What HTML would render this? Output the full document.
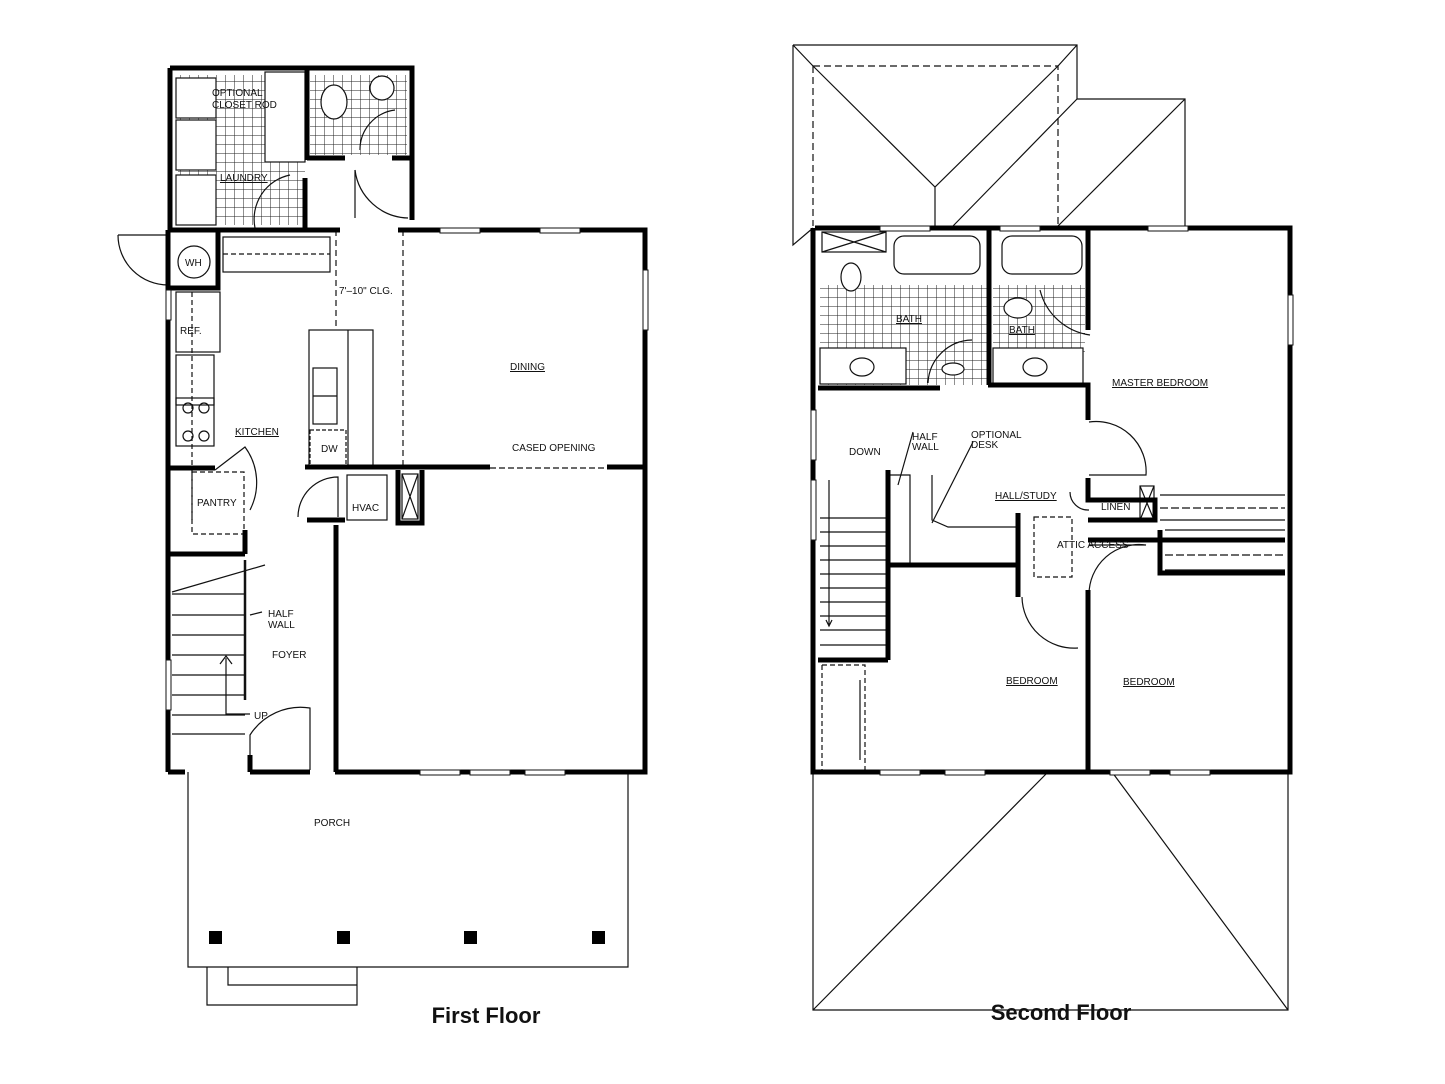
<!DOCTYPE html>
<html><head><meta charset="utf-8"><style>
html,body{margin:0;padding:0;background:#fff;}
svg{display:block;}
text{font-family:"Liberation Sans",sans-serif;fill:#111;}
.t{font-size:10px;}
.ttl{font-size:22px;font-weight:bold;}
</style></head><body>
<svg width="1445" height="1084" viewBox="0 0 1445 1084" xmlns="http://www.w3.org/2000/svg">
<defs>
<pattern id="tile" width="9" height="9" patternUnits="userSpaceOnUse"><path d="M0 0H9M0 0V9" stroke="#222" stroke-width="1" fill="none"/></pattern>
</defs>
<g fill="none" stroke="#111" stroke-width="1.2">
<rect x="178" y="75" width="127" height="150" fill="url(#tile)" stroke="none"/>
<rect x="310" y="75" width="97" height="80" fill="url(#tile)" stroke="none"/>
<rect x="176" y="78" width="40" height="40" fill="#fff"/><rect x="176" y="120" width="40" height="50" fill="#fff"/><rect x="176" y="175" width="40" height="50" fill="#fff"/>
<rect x="265" y="72" width="40" height="90" fill="#fff"/>
<ellipse cx="334" cy="102" rx="13" ry="17" fill="#fff"/><circle cx="382" cy="88" r="12" fill="#fff"/>
<path d="M355 170 A55 55 0 0 0 408 218"/><path d="M355 170V218"/>
<path d="M255 228 A45 45 0 0 1 290 175"/>
<path d="M395 110 A40 40 0 0 0 360 150"/>
<circle cx="194" cy="262" r="16"/>
<path d="M118 235H168M118 235 A50 50 0 0 0 168 285"/>
<rect x="223" y="237" width="107" height="35"/><path d="M223 254H330" stroke-dasharray="5 3"/>
<path d="M336 230V330M403 230V468" stroke-dasharray="6 4"/>
<rect x="176" y="292" width="44" height="60"/><rect x="176" y="355" width="38" height="50"/>
<rect x="176" y="398" width="38" height="48"/>
<circle cx="188" cy="408" r="5"/><circle cx="204" cy="408" r="5"/><circle cx="188" cy="436" r="5"/><circle cx="204" cy="436" r="5"/>
<path d="M192 292V520" stroke-dasharray="5 3"/>
<rect x="309" y="330" width="64" height="138"/><path d="M348 330V468"/>
<rect x="313" y="368" width="24" height="56"/><path d="M313 396H337"/>
<rect x="310" y="430" width="36" height="38" stroke-dasharray="4 2"/>
<path d="M215 470 L245 447 A60 60 0 0 1 250 510"/>
<rect x="192" y="472" width="52" height="62" stroke-dasharray="5 3"/>
<rect x="347" y="475" width="40" height="45"/>
<path d="M298 517 A40 40 0 0 1 338 477V517"/>
<rect x="402" y="474" width="16" height="45"/><path d="M402 474L418 519M418 474L402 519"/>
<path d="M172 594H245M172 615H245M172 635H245M172 655H245M172 675H245M172 695H245M172 715H245M172 734H245"/>
<path d="M245 560V700" stroke-width="2.5"/>
<path d="M172 592L265 565"/>
<path d="M226 658V714H250M220 664L226 656L232 664"/>
<path d="M250 615L262 612"/>
<path d="M250 770V735 A60 60 0 0 1 310 708V770"/>
<path d="M336 530V710" stroke-dasharray="6 4"/>
<path d="M490 468H607" stroke-dasharray="6 3"/>
<path d="M188 772V967H628V772"/>
<path d="M207 967V1005H357V967M228 967V985H357"/>
<path d="M793 45H1077V99H1185V226M793 45V245L813 228"/>
<path d="M813 66H1058V226M813 66V226" stroke-dasharray="7 4"/>
<path d="M793 45L813 66M1077 45L1058 66M813 66L935 187L1058 66M935 187V226M953 226L1077 99M1058 226L1185 99"/>
<rect x="820" y="285" width="170" height="100" fill="url(#tile)" stroke="none"/>
<rect x="993" y="285" width="92" height="70" fill="url(#tile)" stroke="none"/>
<rect x="822" y="232" width="64" height="20"/><path d="M822 232L886 252M886 232L822 252"/>
<rect x="894" y="236" width="86" height="38" rx="10" fill="#fff"/>
<rect x="1002" y="236" width="80" height="38" rx="10" fill="#fff"/>
<ellipse cx="851" cy="277" rx="10" ry="14" fill="#fff"/>
<rect x="820" y="348" width="86" height="36" fill="#fff"/><ellipse cx="862" cy="367" rx="12" ry="9"/>
<rect x="993" y="348" width="90" height="36" fill="#fff"/><ellipse cx="1035" cy="367" rx="12" ry="9"/>
<ellipse cx="1018" cy="308" rx="14" ry="10" fill="#fff"/>
<path d="M928 383 A45 45 0 0 1 972 340"/><ellipse cx="953" cy="369" rx="11" ry="6" fill="#fff"/>
<path d="M1040 290 A60 60 0 0 0 1090 335"/>
<path d="M1089 422 A50 50 0 0 1 1146 475H1089"/>
<path d="M1089 510 A18 18 0 0 1 1070 492"/>
<path d="M1089 595 A50 50 0 0 1 1146 545H1089"/>
<path d="M1022 597 A52 52 0 0 0 1078 648"/>
<rect x="1034" y="517" width="38" height="60" stroke-dasharray="5 3"/>
<rect x="1140" y="486" width="14" height="34"/><path d="M1140 486L1154 520M1154 486L1140 520"/>
<path d="M1160 495H1285M1160 520H1285M1165 530H1285M1165 540H1285M1165 570H1285" />
<path d="M1160 508H1285M1165 555H1285" stroke-dasharray="8 3"/>
<path d="M820 518H888M820 532H888M820 546H888M820 560H888M820 574H888M820 588H888M820 602H888M820 616H888M820 630H888M820 645H888"/>
<path d="M888 475H910V565M932 475V520L948 527H1018" />
<path d="M829 480V625M826 620L829 626L832 620" />
<path d="M822 665H865V770M822 665V770" stroke-dasharray="5 3"/>
<path d="M860 680V760"/>
<path d="M913 432L898 485M973 442L932 523"/>
<path d="M813 772V1010H1288V772M813 1010L1048 772M1288 1010L1112 772"/>
</g>
<g fill="none" stroke="#000" stroke-width="5">
<path d="M170 68H412V220M170 68V230M307 68V160M307 158H345M392 158H410M305 178V228M170 230H340M398 230H645V772H335M310 772H250M250 772V755M168 772V230M168 772H185"/>
<path d="M218 230V288H170M305 467H490M607 467H645M168 468H215M168 554H245M245 530V554M336 525V772M307 520H345M398 470V523H422V470"/>
<path d="M815 228H1290V772H813V228M989 228V385M1088 228V330M818 388H940M988 385H1088V420M1088 478V500H1155V520H1088M1088 540H1285M1160 530V573H1285M1018 513V597M888 565H1018M1088 590V772M888 470V660M818 660H888"/>
</g>
<g fill="#000">
<rect x="209" y="931" width="13" height="13"/><rect x="337" y="931" width="13" height="13"/><rect x="464" y="931" width="13" height="13"/><rect x="592" y="931" width="13" height="13"/>
</g>
<g fill="#fff" stroke="#111" stroke-width="1">
<rect x="440" y="228" width="40" height="5"/><rect x="540" y="228" width="40" height="5"/>
<rect x="880" y="226" width="50" height="5"/><rect x="1000" y="226" width="40" height="5"/><rect x="1148" y="226" width="40" height="5"/>
<rect x="1288" y="295" width="5" height="50"/><rect x="643" y="270" width="5" height="60"/>
<rect x="420" y="770" width="40" height="5"/><rect x="470" y="770" width="40" height="5"/><rect x="525" y="770" width="40" height="5"/>
<rect x="880" y="770" width="40" height="5"/><rect x="945" y="770" width="40" height="5"/><rect x="1110" y="770" width="40" height="5"/><rect x="1170" y="770" width="40" height="5"/>
<rect x="811" y="410" width="5" height="50"/><rect x="811" y="480" width="5" height="60"/>
<rect x="166" y="290" width="5" height="30"/><rect x="166" y="660" width="5" height="50"/>
</g>
<g class="t">
<text x="212" y="96">OPTIONAL</text><text x="212" y="108">CLOSET ROD</text>
<text x="220" y="181" text-decoration="underline">LAUNDRY</text>
<text x="185" y="266">WH</text><text x="180" y="334">REF.</text>
<text x="339" y="294">7'–10" CLG.</text>
<text x="235" y="435" text-decoration="underline">KITCHEN</text>
<text x="510" y="370" text-decoration="underline">DINING</text>
<text x="512" y="451">CASED OPENING</text>
<text x="197" y="506">PANTRY</text><text x="321" y="452">DW</text><text x="352" y="511">HVAC</text>
<text x="268" y="617">HALF</text><text x="268" y="628">WALL</text>
<text x="272" y="658">FOYER</text><text x="254" y="719">UP</text>
<text x="314" y="826">PORCH</text>
<text x="896" y="322" text-decoration="underline">BATH</text>
<text x="1009" y="333" text-decoration="underline">BATH</text>
<text x="1112" y="386" text-decoration="underline">MASTER BEDROOM</text>
<text x="849" y="455">DOWN</text><text x="912" y="440">HALF</text><text x="912" y="450">WALL</text>
<text x="971" y="438">OPTIONAL</text><text x="971" y="448">DESK</text>
<text x="995" y="499" text-decoration="underline">HALL/STUDY</text>
<text x="1101" y="510">LINEN</text><text x="1057" y="548">ATTIC ACCESS</text>
<text x="1006" y="684" text-decoration="underline">BEDROOM</text>
<text x="1123" y="685" text-decoration="underline">BEDROOM</text>
</g>
<text class="ttl" x="486" y="1023" text-anchor="middle">First Floor</text>
<text class="ttl" x="1061" y="1020" text-anchor="middle">Second Floor</text>
</svg>
</body></html>
